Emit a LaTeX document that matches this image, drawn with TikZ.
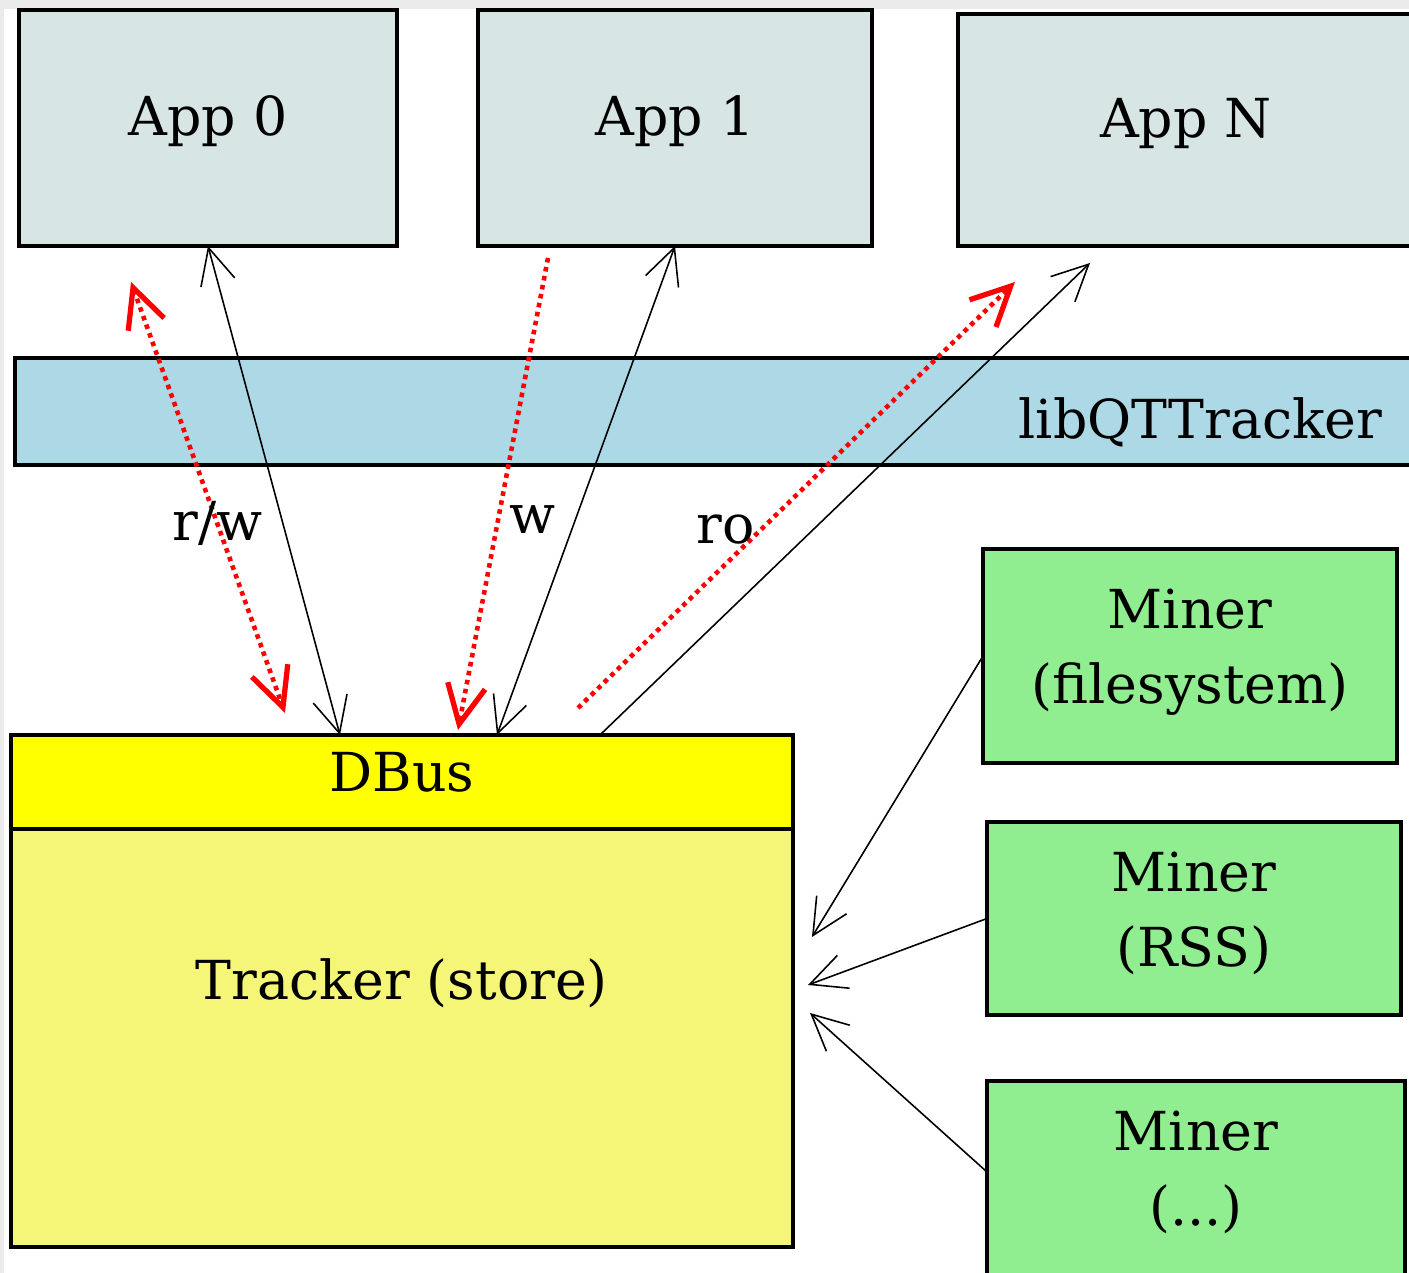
\documentclass[tikz,border=0pt]{standalone}
\usepackage{fontspec}
\setmainfont{DejaVu Serif}
\definecolor{appgray}{RGB}{216,229,229}
\definecolor{libblue}{RGB}{173,216,230}
\definecolor{dbusyellow}{RGB}{255,255,0}
\definecolor{storeyellow}{RGB}{245,246,120}
\definecolor{minergreen}{RGB}{144,238,144}
\definecolor{edgegray}{RGB}{235,235,235}
\usetikzlibrary{arrows.meta,positioning,calc}

\begin{document}
\begin{tikzpicture}[x=0.1mm, y=-0.1mm,
    box/.style={draw, line width=1.1pt, inner sep=0pt, outer sep=0pt, align=center, font=\fontsize{15.3}{21.3}\selectfont},
    appbox/.style={box, fill=appgray, minimum height=23.6mm, text depth=2.4mm},
    minerbox/.style={box, fill=minergreen, minimum width=41.4mm, text depth=1.9mm},
    lbl/.style={text=black, font=\fontsize{15.3}{21.3}\selectfont, inner sep=1pt},
    barb/.tip={Straight Barb[length=3.6mm, width=3.5mm]},
    rbarb/.tip={Straight Barb[length=3.9mm, width=3.8mm, line width=1.5pt]},
    link/.style={line width=0.45pt, -barb},
    blink/.style={line width=0.45pt, barb-barb},
    rlink/.style={red, line width=1.3pt, dash pattern=on 1.3pt off 1.3pt}]
    % Page and grey edge
    \useasboundingbox (0,0) rectangle (1409,1273);
    \fill[white] (0,0) rectangle (1409,1273);
    \fill[edgegray] (0,0) rectangle (1409,9);
    \fill[edgegray] (0,0) rectangle (4,1273);
    \clip (0,0) rectangle (1409,1273);

    % Applications
    \node[appbox, minimum width=37.8mm] (app0) at (208,128) {App 0};
    \node[appbox, minimum width=39.4mm] (app1) at (675,128) {App 1};
    \node[appbox, minimum width=45.6mm, minimum height=23.2mm] (appN) at (1186,130) {App N};

    % Library band
    \node[box, fill=libblue, minimum width=141.5mm, minimum height=10.7mm] (lib) at (722.5,411.5) {};
    \node[lbl, anchor=east, inner sep=0pt] (libtxt) at ($(lib.west)+(1368,11)$) {libQTTracker};

    % Store
    \node[box, fill=dbusyellow, minimum width=78.2mm, minimum height=9.4mm, text depth=2mm] (dbus) at (402,782) {DBus};
    \node[box, fill=storeyellow, minimum width=78.2mm, minimum height=41.8mm, below=0pt of dbus] (store) {};
    \node[lbl] (storetxt) at ($(store.north)+(0,154)$) {Tracker (store)};

    % Miners
    \node[minerbox, minimum height=21.4mm] (miner1) at (1190,656) {Miner\\(filesystem)};
    \node[minerbox, minimum height=19.3mm] (miner2) at (1194,918.5) {Miner\\(RSS)};
    \node[minerbox, minimum width=41.8mm, minimum height=20mm, text depth=2.6mm] (miner3) at (1196,1181) {Miner\\(...)};

    % App 0 links
    \draw[blink] (app0.south) -- ($(dbus.north)+(-62,0)$);
    \draw[rlink, rbarb-rbarb] ($(app0.south)+(-77,36)$) -- node[lbl, pos=0.56] {r/w} ($(dbus.north)+(-117,-22)$);

    % App 1 links
    \draw[blink] (app1.south) -- ($(dbus.north)+(95,0)$);
    \draw[rlink, -rbarb] ($(app1.south)+(-127,12)$) -- node[lbl, pos=0.555, right=0.6mm] {w} ($(dbus.north)+(56,-5)$);

    % App N links
    \draw[link] ($(dbus.north)+(198,0)$) -- ($(appN.south west)+(132,17)$);
    \draw[rlink, -rbarb] ($(dbus.north)+(176,-27)$) -- node[lbl, pos=0.418, left=0pt] {ro} ($(appN.south west)+(57,36)$);

    % Miner links
    \draw[link] (miner1.west) -- ($(store.east)+(19,-101)$);
    \draw[link] (miner2.west) -- ($(store.east)+(15,-53)$);
    \draw[link] ($(miner3.west)+(0,-9)$) -- ($(store.east)+(17,-25)$);
\end{tikzpicture}
\end{document}
